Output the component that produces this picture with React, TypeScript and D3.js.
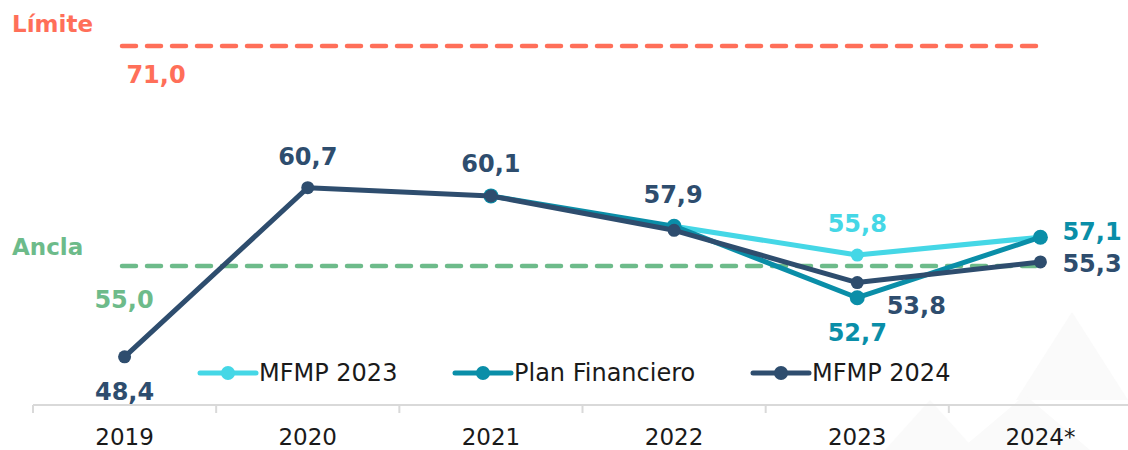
import React from "react";
import * as d3 from "d3";

const years = ["2019", "2020", "2021", "2022", "2023", "2024*"];
const mfmp2023 = [null, null, null, 57.9, 55.8, 57.1];
const planFinanciero = [null, null, 60.1, 57.9, 52.7, 57.1];
const mfmp2024 = [48.4, 60.7, 60.1, 57.6, 53.8, 55.3];
const limite = 71.0;
const ancla = 55.0;

const dataLabels = [
  { i: 0, text: "48,4", s: "navy", dx: 0, dy: 43, anchor: "middle" },
  { i: 1, text: "60,7", s: "navy", dx: 0, dy: -23, anchor: "middle" },
  { i: 2, text: "60,1", s: "navy", dx: 0, dy: -24, anchor: "middle" },
  { i: 3, text: "57,9", s: "navy", dx: -1, dy: -27, anchor: "middle" },
  { i: 4, text: "55,8", s: "cyan", dx: 0, dy: -23, anchor: "middle" },
  { i: 4, text: "52,7", s: "teal", dx: 0, dy: 43, anchor: "middle" },
  { i: 4, text: "53,8", s: "navy", dx: 59, dy: 31, anchor: "middle" },
  { i: 5, text: "57,1", s: "teal", dx: 22, dy: 3, anchor: "start" },
  { i: 5, text: "55,3", s: "navy", dx: 22, dy: 10, anchor: "start" },
];

const COLORS: Record<string, string> = {
  cyan: "#45D7E6",
  teal: "#0A8EA8",
  navy: "#2E4D6E",
  coral: "#FF6F59",
  green: "#6DBB8A",
};

const FONT = "'DejaVu Sans', Verdana, sans-serif";

export default function App() {
  const width = 1128;
  const height = 450;
  const x = d3.scaleBand<string>().domain(years).range([33, 1132]).padding(0);
  const y = d3.scaleLinear().domain([44.9, 71]).range([405, 46]);
  const cx = (i: number) => (x(years[i]) as number) + x.bandwidth() / 2;

  const line = d3
    .line<number | null>()
    .defined((d) => d !== null)
    .x((_, i) => cx(i))
    .y((d) => y(d as number));

  const series = [
    { key: "cyan", data: mfmp2023, r: 6.5 },
    { key: "teal", data: planFinanciero, r: 7.5 },
    { key: "navy", data: mfmp2024, r: 6.5 },
  ];

  const legend = [
    { key: "cyan", label: "MFMP 2023", x0: 200 },
    { key: "teal", label: "Plan Financiero", x0: 455 },
    { key: "navy", label: "MFMP 2024", x0: 753 },
  ];

  const valueOf = (s: string, i: number) =>
    s === "cyan" ? mfmp2023[i] : s === "teal" ? planFinanciero[i] : mfmp2024[i];

  return (
    <svg
      width={width}
      height={height}
      style={{ position: "absolute", left: 0, top: 0, background: "#fff" }}
      fontFamily={FONT}
    >
      <g fill="#fafafa">
        <polygon points="1072,312 1128,400 1016,400" />
        <polygon points="1025,395 1090,450 960,450" />
        <polygon points="930,400 975,450 885,450" />
      </g>

      <line
        x1={122}
        x2={1045}
        y1={y(limite)}
        y2={y(limite)}
        stroke={COLORS.coral}
        strokeWidth={4.5}
        strokeDasharray="14 11"
        strokeLinecap="round"
      />
      <line
        x1={122}
        x2={1042}
        y1={y(ancla)}
        y2={y(ancla)}
        stroke={COLORS.green}
        strokeWidth={4.5}
        strokeDasharray="14 11"
        strokeLinecap="round"
      />
      <text x={12} y={32} fill={COLORS.coral} fontSize={23} fontWeight="bold">
        Límite
      </text>
      <text x={156} y={83} fill={COLORS.coral} fontSize={24} fontWeight="bold" textAnchor="middle">
        {limite.toFixed(1).replace(".", ",")}
      </text>
      <text x={12} y={255} fill={COLORS.green} fontSize={23} fontWeight="bold">
        Ancla
      </text>
      <text x={124} y={308} fill={COLORS.green} fontSize={24} fontWeight="bold" textAnchor="middle">
        {ancla.toFixed(1).replace(".", ",")}
      </text>

      <line x1={33} x2={1128} y1={405} y2={405} stroke="#d9d9d9" strokeWidth={2} />
      {years.map((yr) => (
        <line
          key={"t" + yr}
          x1={x(yr) as number}
          x2={x(yr) as number}
          y1={405}
          y2={413}
          stroke="#d9d9d9"
          strokeWidth={2}
        />
      ))}
      {years.map((yr, i) => (
        <text key={"l" + yr} x={cx(i)} y={445} textAnchor="middle" fontSize={23} fill="#1a1a1a">
          {yr}
        </text>
      ))}

      {series.map((s) => (
        <g key={s.key}>
          <path
            d={line(s.data) || ""}
            fill="none"
            stroke={COLORS[s.key]}
            strokeWidth={5}
            strokeLinejoin="round"
          />
          {s.data.map((v, i) =>
            v === null ? null : (
              <circle key={i} cx={cx(i)} cy={y(v)} r={s.r} fill={COLORS[s.key]} />
            )
          )}
        </g>
      ))}

      {dataLabels.map((d, k) => (
        <text
          key={k}
          x={cx(d.i) + d.dx}
          y={y(valueOf(d.s, d.i) as number) + d.dy}
          textAnchor={d.anchor as any}
          fontSize={24}
          fontWeight="bold"
          fill={COLORS[d.s]}
        >
          {d.text}
        </text>
      ))}

      {legend.map((l) => (
        <g key={l.key} transform={`translate(${l.x0},373)`}>
          <line x1={0} x2={56} y1={0} y2={0} stroke={COLORS[l.key]} strokeWidth={5} strokeLinecap="round" />
          <circle cx={28} cy={0} r={7} fill={COLORS[l.key]} />
          <text x={59} y={8} fontSize={24} fill="#1a1a1a">
            {l.label}
          </text>
        </g>
      ))}
    </svg>
  );
}
